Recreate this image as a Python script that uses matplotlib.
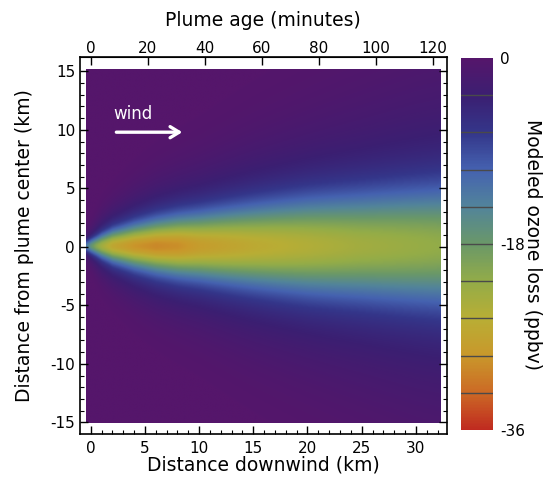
import numpy as np
import matplotlib
matplotlib.use("Agg")
import matplotlib.pyplot as plt
from matplotlib.colors import LinearSegmentedColormap

plt.rcParams["font.family"] = ["DejaVu Sans"]
plt.rcParams["axes.unicode_minus"] = False

# Plume description along the downwind axis
distance_km = [-0.45, 0.0, 0.5, 1.0, 2.0, 4.0, 6.0, 8.0, 10.0, 15.0, 20.0, 25.0, 30.0, 32.3]
centerline_loss = [-13.0, -17.0, -20.5, -23.0, -26.5, -29.0, -30.0, -29.5, -28.0, -26.0, -24.5, -23.0, -22.0, -21.5]
core_width_km = [0.35, 0.45, 0.55, 0.68, 0.88, 1.15, 1.38, 1.58, 1.75, 2.2, 2.6, 2.9, 3.2, 3.35]
halo_width_km = [0.8, 1.0, 1.3, 1.6, 2.0, 2.6, 3.1, 3.5, 3.9, 5.0, 6.0, 7.0, 8.0, 8.4]
core_fraction = 0.7

crosswind_extent = [-15.1, 15.1]
wind_speed_kmh = 15.8

# Colour scale of the loss field (from -36 up to 0)
loss_colors = ["#c02a20", "#cc6a25", "#c9982b", "#b8ae35", "#93ac48",
               "#6a9868", "#52849a", "#4562b0", "#34368a", "#3b1f72", "#55166b"]
cbar_ticks = [0, -18, -36]
cbar_levels = [-3.6, -7.2, -10.8, -14.4, -18.0, -21.6, -25.2, -28.8, -32.4]

# Build the loss field on a regular grid
xg = np.linspace(distance_km[0], distance_km[-1], 500)
yg = np.linspace(crosswind_extent[0], crosswind_extent[1], 500)
amp = np.interp(xg, distance_km, centerline_loss)
s1 = np.interp(xg, distance_km, core_width_km)
s2 = np.interp(xg, distance_km, halo_width_km)
Y = yg[:, None]
field = amp[None, :] * (core_fraction * np.exp(-Y**2 / (2 * s1[None, :]**2))
                        + (1 - core_fraction) * np.exp(-Y**2 / (2 * s2[None, :]**2)))

cmap = LinearSegmentedColormap.from_list("ozone_loss", loss_colors)

fig = plt.figure(figsize=(5.57, 4.8), dpi=100)
ax = fig.add_axes([0.1436, 0.0958, 0.8020 - 0.1436, 0.8806 - 0.0958])
im = ax.imshow(field, origin="lower", aspect="auto", cmap=cmap, vmin=-36, vmax=0,
               extent=[distance_km[0], distance_km[-1], crosswind_extent[0], crosswind_extent[1]],
               interpolation="bilinear")
ax.set_xlim(-1, 32.85)
ax.set_ylim(-16, 16.2)

ax.set_xticks([0, 5, 10, 15, 20, 25, 30])
ax.set_xticks(np.arange(0, 33, 1), minor=True)
ax.set_yticks([-15, -10, -5, 0, 5, 10, 15])
ax.set_yticks(np.arange(-15, 16, 1), minor=True)
ax.tick_params(which="both", direction="in", top=False, right=True, labelsize=11)
ax.tick_params(which="major", length=6, width=1)
ax.tick_params(which="minor", length=3, width=0.8)
ax.tick_params(axis="x", pad=5)
for sp in ax.spines.values():
    sp.set_linewidth(1.2)

ax.set_xlabel("Distance downwind (km)", fontsize=13.5, labelpad=0)
ax.set_ylabel("Distance from plume center (km)", fontsize=13.5, labelpad=12)

# Plume age on the top axis
min_per_km = 60.0 / wind_speed_kmh
sec = ax.secondary_xaxis("top", functions=(lambda x: x * min_per_km, lambda m: m / min_per_km))
sec.set_xticks([0, 20, 40, 60, 80, 100, 120])
sec.tick_params(direction="in", length=6, width=1, labelsize=11, pad=1)
sec.set_xlabel("Plume age (minutes)", fontsize=13.5, labelpad=11)

# Wind direction marker
ax.text(2.1, 10.9, "wind", color="white", fontsize=12, ha="left", va="baseline")
ax.annotate("", xy=(8.7, 9.8), xytext=(2.1, 9.8),
            arrowprops=dict(arrowstyle="->,head_width=0.4,head_length=0.65",
                            color="white", lw=2.4))

# Colour bar
cax = fig.add_axes([0.827, 0.104, 0.0585, 0.879 - 0.104])
cb = fig.colorbar(im, cax=cax)
cb.outline.set_visible(False)
cb.set_ticks(cbar_ticks)
cb.set_ticklabels([str(t) for t in cbar_ticks])
cax.tick_params(length=0, labelsize=11, pad=5)
for lev in cbar_levels:
    cax.axhline(lev, color="#4a4a4a", lw=1.0)
cb.set_label("Modeled ozone loss (ppbv)", rotation=270, fontsize=13.5, labelpad=12)

fig.savefig("out.png", dpi=100)
